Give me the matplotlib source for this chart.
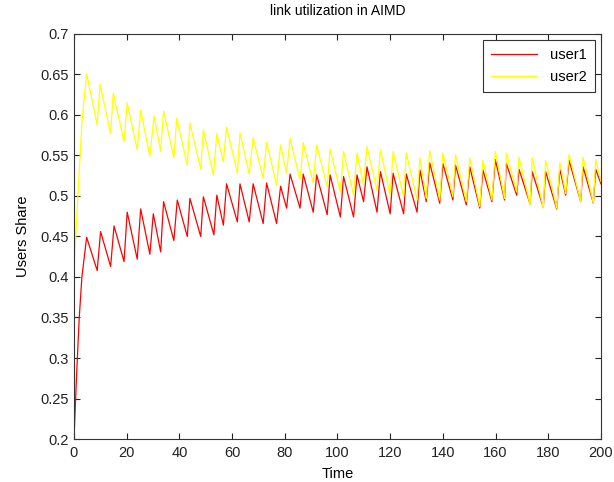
import matplotlib
matplotlib.use("Agg")
import matplotlib.pyplot as plt

plt.rcParams['font.family'] = ['Liberation Sans', 'DejaVu Sans']

# sawtooth vertices (time, share)
t_user1 = [0, 1, 2, 3, 4.8, 8.8, 10.1, 13.9, 15.2, 19.0, 20.2, 24.0, 25.3, 28.8, 30.1,
           32.9, 34.0, 37.9, 39.2, 43.0, 44.0, 48.1, 49.1, 53.1, 54.2, 56.7, 57.9, 62.0,
           63.0, 66.5, 68.0, 71.8, 73.1, 76.9, 78.4, 80.7, 82.0, 85.8, 87.0, 90.8, 92.1,
           96.1, 97.2, 101.1, 102.3, 106.1, 107.4, 109.9, 111.2, 115.0, 116.3, 120.0,
           121.1, 125.1, 126.1, 130.2, 131.3, 133.7, 135.0, 138.8, 140.0, 143.8, 144.8,
           148.9, 150.2, 154.0, 155.2, 158.6, 159.9, 163.4, 164.1, 168.0, 168.9, 173.1,
           173.9, 178.1, 179.0, 183.2, 184.4, 186.6, 187.9, 192.3, 193.2, 197.1, 198.0, 200.0]
user1 = [0.20, 0.28, 0.35, 0.40, 0.449, 0.408, 0.456, 0.413, 0.463, 0.419, 0.480, 0.422,
         0.484, 0.428, 0.478, 0.431, 0.493, 0.445, 0.495, 0.450, 0.497, 0.450, 0.499, 0.452,
         0.501, 0.464, 0.515, 0.468, 0.515, 0.468, 0.515, 0.466, 0.516, 0.466, 0.512, 0.485,
         0.527, 0.485, 0.527, 0.480, 0.526, 0.477, 0.526, 0.474, 0.524, 0.474, 0.526, 0.493,
         0.536, 0.480, 0.530, 0.478, 0.528, 0.478, 0.527, 0.480, 0.532, 0.493, 0.541, 0.491,
         0.540, 0.495, 0.538, 0.489, 0.536, 0.485, 0.532, 0.493, 0.545, 0.495, 0.540, 0.501,
         0.533, 0.490, 0.530, 0.486, 0.530, 0.484, 0.533, 0.501, 0.544, 0.493, 0.536, 0.491,
         0.533, 0.515]

t_user2 = [0, 1, 2, 3, 4.8, 8.8, 9.9, 13.9, 14.9, 19.0, 20.2, 24.0, 25.3, 28.8, 30.4,
           32.9, 34.0, 37.9, 39.0, 43.0, 44.0, 48.1, 49.1, 52.9, 54.2, 56.7, 57.9, 62.0,
           63.0, 66.5, 68.0, 71.8, 73.1, 76.9, 78.4, 80.7, 82.0, 85.8, 87.0, 90.8, 92.1,
           96.1, 97.2, 101.1, 102.3, 106.1, 107.4, 109.9, 111.2, 115.0, 116.3, 120.0,
           121.1, 125.1, 126.1, 130.2, 131.3, 133.7, 135.0, 138.8, 140.0, 143.8, 144.8,
           148.9, 150.2, 154.0, 155.2, 158.6, 159.9, 163.4, 164.1, 168.0, 168.9, 173.1,
           173.9, 178.1, 179.0, 183.2, 184.4, 186.6, 187.9, 192.3, 193.2, 197.1, 198.0, 200.0]
user2 = [0.41, 0.47, 0.53, 0.59, 0.651, 0.588, 0.638, 0.577, 0.627, 0.567, 0.615, 0.557,
         0.606, 0.549, 0.599, 0.555, 0.605, 0.547, 0.596, 0.538, 0.590, 0.533, 0.582, 0.526,
         0.577, 0.542, 0.585, 0.528, 0.578, 0.527, 0.572, 0.522, 0.566, 0.514, 0.563, 0.528,
         0.571, 0.520, 0.566, 0.516, 0.563, 0.511, 0.558, 0.505, 0.555, 0.501, 0.553, 0.514,
         0.561, 0.507, 0.557, 0.501, 0.555, 0.499, 0.553, 0.495, 0.547, 0.497, 0.556, 0.495,
         0.553, 0.499, 0.551, 0.493, 0.547, 0.487, 0.544, 0.495, 0.555, 0.497, 0.553, 0.505,
         0.548, 0.489, 0.547, 0.485, 0.544, 0.485, 0.541, 0.503, 0.551, 0.493, 0.548, 0.491,
         0.545, 0.518]

x_ticks = [0, 20, 40, 60, 80, 100, 120, 140, 160, 180, 200]
y_ticks = [0.2, 0.25, 0.3, 0.35, 0.4, 0.45, 0.5, 0.55, 0.6, 0.65, 0.7]
y_labels = ['0.2', '0.25', '0.3', '0.35', '0.4', '0.45', '0.5', '0.55', '0.6', '0.65', '0.7']

fig = plt.figure(figsize=(6.14, 4.82), dpi=100)
ax = fig.add_axes([0.1205, 0.0892, 0.8583, 0.8403])

ax.plot(t_user1, user1, color='red', lw=0.9, label='user1')
ax.plot(t_user2, user2, color='yellow', lw=0.9, label='user2')

ax.set_xlim(0, 200)
ax.set_ylim(0.2, 0.7)
ax.set_xticks(x_ticks)
ax.set_yticks(y_ticks)
ax.set_yticklabels(y_labels)
ax.tick_params(direction='in', length=4, top=True, right=True, labelsize=10.5,
               colors='#222222', width=0.8)
ax.tick_params(axis='x', pad=5)
ax.tick_params(axis='y', pad=4)
for s in ax.spines.values():
    s.set_color('#333333')
    s.set_linewidth(0.8)

ax.set_title('link utilization in AIMD', fontsize=10, pad=14)
ax.set_xlabel('Time', fontsize=10.5, labelpad=5)
ax.set_ylabel('Users Share', fontsize=10.5, labelpad=7)

leg = ax.legend(loc='upper right', fontsize=10.5, fancybox=False, framealpha=1,
                edgecolor='#333333', handlelength=3.2, handletextpad=0.9,
                labelspacing=0.55, borderpad=0.55, borderaxespad=0.4)
leg.get_frame().set_linewidth(0.8)

fig.savefig('out.png', dpi=100)
